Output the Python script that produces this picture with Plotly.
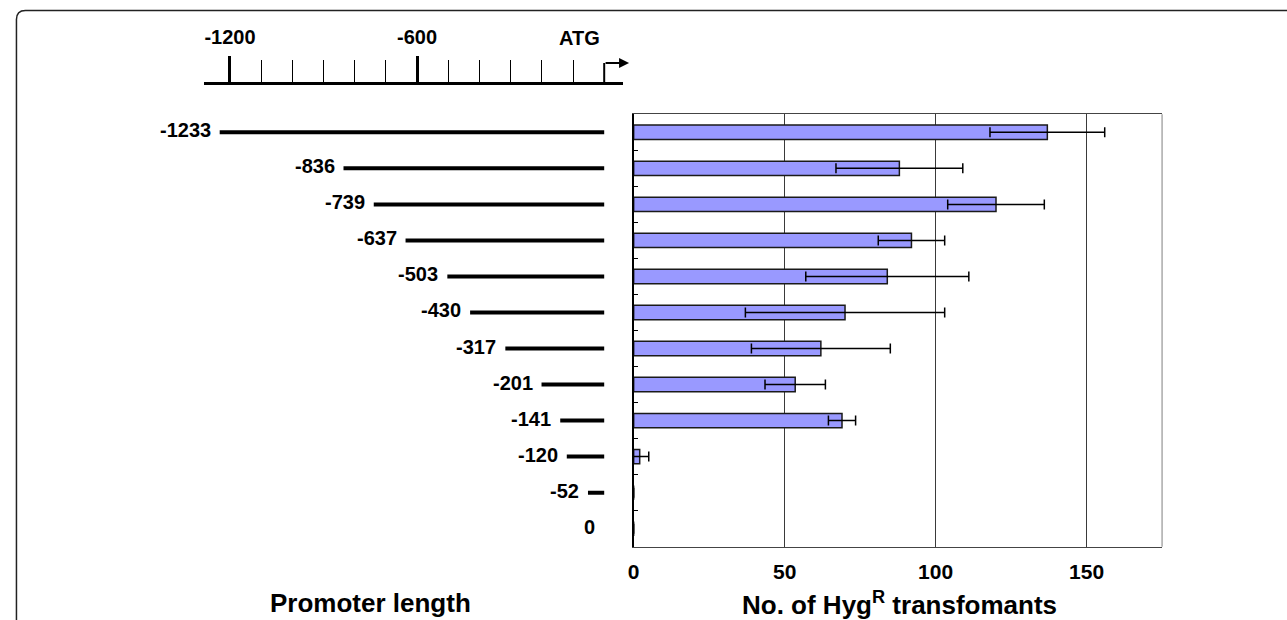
import plotly.graph_objects as go

# ---------------- data ----------------
promoters = ["-1233", "-836", "-739", "-637", "-503", "-430", "-317",
             "-201", "-141", "-120", "-52", "0"]
promoter_bp = [1233, 836, 739, 637, 503, 430, 317, 201, 141, 120, 52, 0]
transformants = [137, 88, 120, 92, 84, 70, 62, 53.5, 69, 2, 0, 0]
errors = [19, 21, 16, 11, 27, 33, 23, 10, 4.5, 3, 0, 0]

scale_major = [-1200, -600]
scale_major_labels = ["-1200", "-600"]
scale_minor = [-1100, -1000, -900, -800, -700, -500, -400, -300, -200, -100]
x_ticks = [0, 50, 100, 150]

# ---------------- layout helpers ----------------
W, H = 1287, 620
FONT = "Liberation Sans, Arial, sans-serif"


def px(x):
    return x / W


def py(y):
    return 1 - y / H


K = 0.3133          # pixels per bp on the promoter map
ZERO_PX = 601       # pixel position of the ATG (0 bp)
bp_left = (199 - ZERO_PX) / K
bp_right = (620 - ZERO_PX) / K

bold = dict(family=FONT, size=20, color="black", weight="bold")
title_font = dict(family=FONT, size=26, color="black", weight="bold")

fig = go.Figure()

fig.add_trace(go.Bar(
    y=promoters, x=transformants, orientation="h", width=0.4,
    marker=dict(color="#9999FF", line=dict(color="#1a1a1a", width=1.5)),
    error_x=dict(type="data", array=errors, color="black", thickness=1.5, width=5),
    xaxis="x", yaxis="y", hoverinfo="x+y", showlegend=False,
))

xs, ys = [], []
for name, bp in zip(promoters, promoter_bp):
    xs += [-bp, 0, None]
    ys += [name, name, None]
fig.add_trace(go.Scatter(
    x=xs, y=ys, mode="lines", line=dict(color="black", width=4),
    xaxis="x2", yaxis="y", hoverinfo="skip", showlegend=False,
))

annotations = []
for i, (name, bp) in enumerate(zip(promoters, promoter_bp)):
    annotations.append(dict(
        x=-bp, y=i, xref="x2", yref="y", text=name, showarrow=False,
        xanchor="right", yanchor="middle", xshift=-7, yshift=2, font=bold,
    ))

annotations.append(dict(
    x=0, y=py(38), xref="x2", yref="paper", text="ATG", showarrow=False,
    xanchor="right", yanchor="middle", xshift=-2, font=bold,
))
annotations.append(dict(
    x=px(ZERO_PX + 25), y=py(63), xref="paper", yref="paper", text="",
    showarrow=True, ax=-25, ay=0, axref="pixel", ayref="pixel",
    arrowhead=2, arrowsize=1, arrowwidth=2, arrowcolor="black",
))
annotations.append(dict(
    x=px(366), y=py(603), xref="paper", yref="paper", text="Promoter length",
    showarrow=False, xanchor="center", yanchor="middle", font=title_font,
))
annotations.append(dict(
    x=px(898), y=py(603), xref="paper", yref="paper",
    text="No. of Hyg<sup>R</sup> transfomants",
    showarrow=False, xanchor="center", yanchor="middle", font=title_font,
))

r = 9
x0, y0 = 10.5, 10.5
frame_path = (
    f"M {px(x0)},{py(H + 10)} L {px(x0)},{py(y0 + r)} "
    f"Q {px(x0)},{py(y0)} {px(x0 + r)},{py(y0)} L {px(W + 10)},{py(y0)}"
)

shapes = [
    dict(type="path", path=frame_path, xref="paper", yref="paper",
         line=dict(color="#222222", width=1.5)),
    dict(type="line", xref="x2", yref="paper", x0=0, x1=0,
         y0=py(83.3), y1=py(63), line=dict(color="black", width=2)),
    dict(type="line", xref="x domain", yref="y domain", x0=1, x1=1, y0=0, y1=1,
         line=dict(color="#aaaaaa", width=1.5)),
]

n = len(promoters)
fig.update_layout(
    width=W, height=H,
    margin=dict(l=0, r=0, t=0, b=0),
    paper_bgcolor="white", plot_bgcolor="white",
    showlegend=False,
    xaxis=dict(
        domain=[px(630.6), px(1161.5)], range=[0, 175], anchor="y",
        tickvals=x_ticks, ticks="", showgrid=True, gridcolor="#3a3a3a",
        gridwidth=1.3, zeroline=False, showline=True, mirror=True,
        linecolor="#444444", linewidth=1.3, tickfont=dict(bold, size=21),
        ticklabelstandoff=6,
    ),
    yaxis=dict(
        domain=[py(546.7), py(114.3)], type="category", categoryorder="array",
        categoryarray=promoters, range=[n - 0.5, -0.5], autorange=False,
        anchor="x",
        showticklabels=False, showgrid=False, zeroline=False,
        showline=True, linecolor="black", linewidth=2,
        ticks="inside", tickson="boundaries", ticklen=4, tickcolor="black",
    ),
    xaxis2=dict(
        domain=[px(199), px(620)], range=[bp_left, bp_right],
        anchor="free", position=py(83.3), side="top",
        showline=True, linecolor="black", linewidth=3,
        showgrid=False, zeroline=False,
        tickvals=scale_major, ticktext=scale_major_labels,
        ticks="outside", ticklen=26, tickwidth=3, tickcolor="black",
        minor=dict(tickmode="array", tickvals=scale_minor, ticks="outside",
                   ticklen=22, tickwidth=1.2, tickcolor="black"),
        tickfont=bold, ticklabelstandoff=4,
    ),
    annotations=annotations,
    shapes=shapes,
)

fig.write_html(
    "out.html",
    config={"displayModeBar": False},
    post_script="document.body.style.margin='0';document.body.style.overflow='hidden';",
)
